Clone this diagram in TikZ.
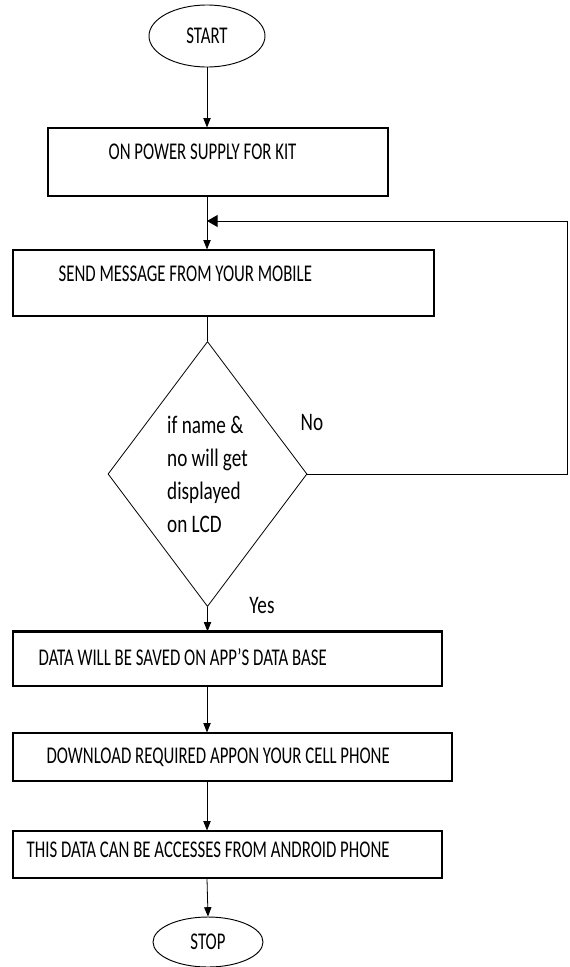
\documentclass[tikz,border=0pt]{standalone}
\usepackage{fontspec}
\setmainfont{Carlito}
\usepackage{graphicx}
\usetikzlibrary{shapes, arrows.meta, positioning}

\newcommand{\cond}[1]{\scalebox{0.7}[1]{#1}}
\newcommand{\wide}[1]{\scalebox{0.8}[1.05]{#1}}

\begin{document}
\begin{tikzpicture}[
      x=0.75pt, y=-0.75pt,
      font=\fontsize{18}{24.75}\selectfont,
      box/.style={rectangle, draw, line width=0.9pt, inner sep=0pt},
      term/.style={ellipse, draw, line width=0.7pt, inner sep=0pt},
      decision/.style={diamond, draw, line width=0.6pt, inner sep=0pt, align=left},
      txt/.style={inner sep=0pt},
      line/.style={line width=0.6pt},
      arrow/.style={line width=0.6pt, -{Triangle[length=7pt, width=5.5pt]}},
      back/.style={line width=0.7pt, -{Triangle[length=8pt, width=9pt]}}
    ]
      \useasboundingbox (0,0) rectangle (569,967);

      \node (start) [term, minimum width=87pt, minimum height=46.5pt] at (207,36) {\cond{START}};
      \node (power) [box, minimum width=255pt, minimum height=51pt] at (218,162) {};
      \node (send) [box, minimum width=315.75pt, minimum height=49.5pt] at (223.5,283) {};
      \node (check) [decision, minimum width=149.25pt, minimum height=198.75pt] at (207.5,474)
        {\wide{if name \&}\\\wide{no will get}\\\wide{displayed}\\\wide{on LCD}};
      \node (saved) [box, minimum width=321.75pt, minimum height=40.5pt] at (227.5,659) {};
      \node (download) [box, minimum width=329.25pt, minimum height=36pt] at (232.5,757) {};
      \node (access) [box, minimum width=321.75pt, minimum height=35.25pt] at (227.5,854.5) {};
      \node (stop) [term, minimum width=82.5pt, minimum height=37.5pt] at (208,942) {\cond{STOP}};

      % box texts
      \node [txt, right=45.75pt of power.west, yshift=7.5pt] {\cond{ON POWER SUPPLY FOR KIT}};
      \node [txt, right=34.5pt of send.west, yshift=6.75pt] {\cond{SEND MESSAGE FROM YOUR MOBILE}};
      \node [txt, right=19.5pt of saved.west, yshift=1.5pt] {\cond{DATA WILL BE SAVED ON APP'S DATA BASE}};
      \node [txt, right=25.5pt of download.west] {\cond{DOWNLOAD REQUIRED APPON YOUR CELL PHONE}};
      \node [txt, right=10.5pt of access.west, yshift=3.4pt] {\cond{THIS DATA CAN BE ACCESSES FROM ANDROID PHONE}};

      \node (no) [txt] at (312,422) {\wide{No}};
      \node (yes) [txt] at (262,606) {\wide{Yes}};

      \coordinate (merge) at (207,221);
      \coordinate (corner) at (567,221);

      \draw [line, line width=2pt] (saved.north west) -- (saved.north east);

      \draw [arrow] (start) -- (start |- power.north);
      \draw [arrow] (power.south -| start) -- (send.north -| start);
      \draw [back] (check.east) -| (corner) -- (merge);
      \draw [line] (send.south -| check) -- (check.north);
      \draw [arrow] (check.south) -- (saved.north -| check);
      \draw [arrow] (saved.south -| start) -- (download.north -| start);
      \draw [arrow] (download.south -| start) -- (access.north -| start);
      \draw [arrow] (access.south -| start) -- (stop.north);
    \end{tikzpicture}
\end{document}
